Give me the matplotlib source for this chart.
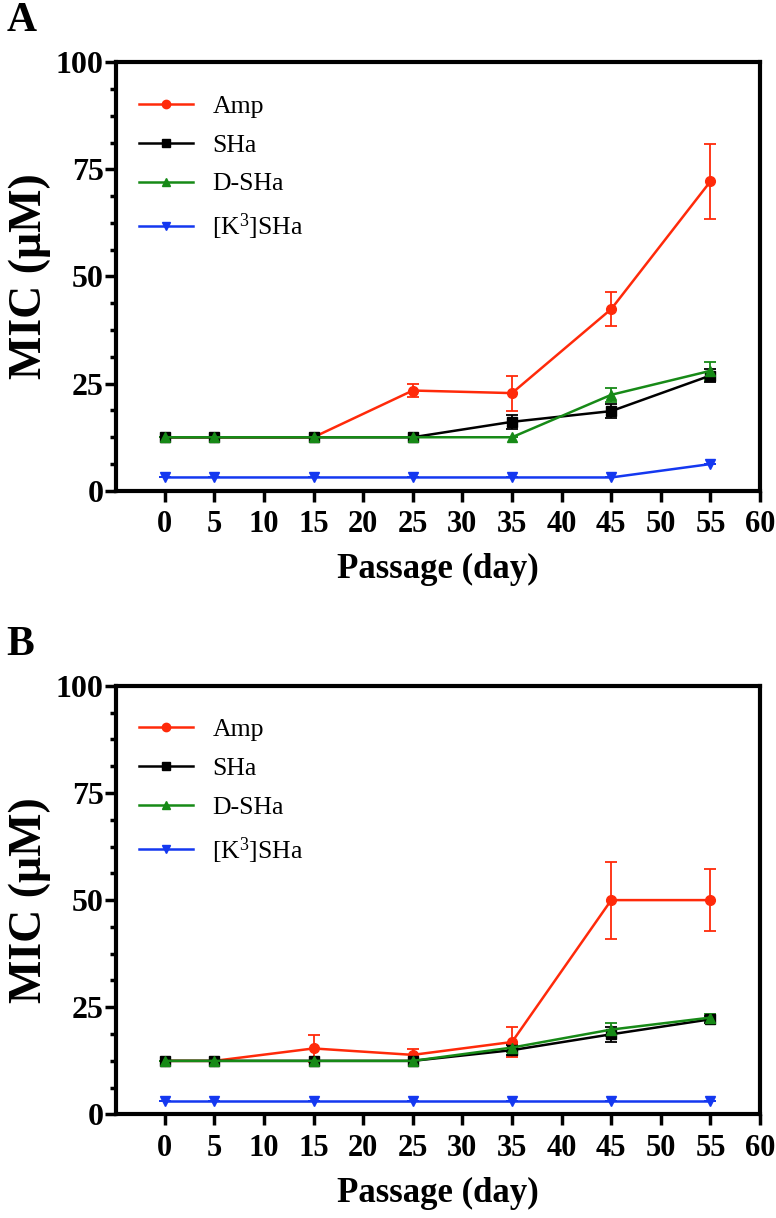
import matplotlib
matplotlib.use('Agg')
import matplotlib.pyplot as plt
from matplotlib.lines import Line2D
from matplotlib.ticker import MultipleLocator

plt.rcParams['font.family'] = ['Liberation Serif', 'DejaVu Serif']
plt.rcParams['mathtext.fontset'] = 'custom'
plt.rcParams['mathtext.rm'] = 'Liberation Serif'
plt.rcParams['mathtext.default'] = 'regular'

days = [0, 5, 15, 25, 35, 45, 55]
xticks = [0, 5, 10, 15, 20, 25, 30, 35, 40, 45, 50, 55, 60]

# panel A
amp_a = [12.5, 12.5, 12.5, 23.4, 22.8, 42.4, 72.2]
amp_a_err = [0, 0, 0, 1.6, 4.1, 3.9, 8.8]
sha_a = [12.5, 12.5, 12.5, 12.5, 16.1, 18.6, 26.9]
sha_a_err = [0, 0, 0, 0, 1.7, 1.7, 1.5]
dsha_a = [12.5, 12.5, 12.5, 12.5, 12.5, 22.4, 28.0]
dsha_a_err = [0, 0, 0, 0, 0, 1.6, 2.1]
k3_a = [3.125, 3.125, 3.125, 3.125, 3.125, 3.125, 6.25]
k3_a_err = [0, 0, 0, 0, 0, 0, 0]

# panel B
amp_b = [12.5, 12.5, 15.4, 13.9, 16.9, 50.0, 50.0]
amp_b_err = [0, 0, 3.2, 1.4, 3.4, 9.0, 7.2]
sha_b = [12.5, 12.5, 12.5, 12.5, 15.0, 18.7, 22.2]
sha_b_err = [0, 0, 0, 0, 1.2, 1.8, 0.8]
dsha_b = [12.5, 12.5, 12.5, 12.5, 15.6, 19.8, 22.6]
dsha_b_err = [0, 0, 0, 0, 1.0, 1.5, 0.8]
k3_b = [3.125, 3.125, 3.125, 3.125, 3.125, 3.125, 3.125]
k3_b_err = [0, 0, 0, 0, 0, 0, 0]

labels = ['Amp', 'SHa', 'D-SHa', '[K$^3$]SHa']
colors = ['#FF2A0A', '#000000', '#178A17', '#1438F0']
markers = ['o', 's', '^', 'v']


def draw_panel(ax, series):
    handles = []
    for (y, err), lab, col, m in zip(series, labels, colors, markers):
        ax.errorbar(days, y, yerr=err, color=col, marker=m, markersize=7,
                    linewidth=1.8, elinewidth=1.3, capsize=4.5, capthick=1.3)
        handles.append(Line2D([], [], color=col, marker=m, markersize=6,
                              linewidth=1.8, label=lab))
    ax.set_xlim(-4.9, 60)
    ax.set_ylim(0, 100)
    ax.set_xticks(xticks)
    ax.yaxis.set_major_locator(MultipleLocator(25))
    ax.yaxis.set_minor_locator(MultipleLocator(6.25))
    for s in ax.spines.values():
        s.set_linewidth(3)
    ax.tick_params(which='major', length=8, width=2.5, labelsize=23, pad=1)
    ax.tick_params(which='minor', length=4.5, width=2.5)
    ax.tick_params(axis='x', labelsize=22, pad=6)
    for t in ax.get_xticklabels() + ax.get_yticklabels():
        t.set_fontweight('bold')
    ax.set_xlabel('Passage (day)', fontsize=25, fontweight='bold', labelpad=10)
    ax.set_ylabel('MIC (μM)', fontsize=33, fontweight='bold', labelpad=3)
    ax.legend(handles=handles, loc='upper left', bbox_to_anchor=(0.0, 0.978),
              frameon=False, fontsize=18.5, handlelength=2.1,
              labelspacing=0.62, handletextpad=0.75)


fig = plt.figure(figsize=(7.76, 12.18), dpi=100)
ax1 = fig.add_axes([0.1495, 0.597, 0.830, 0.352])
ax2 = fig.add_axes([0.1495, 0.085, 0.830, 0.352])

draw_panel(ax1, [(amp_a, amp_a_err), (sha_a, sha_a_err), (dsha_a, dsha_a_err), (k3_a, k3_a_err)])
draw_panel(ax2, [(amp_b, amp_b_err), (sha_b, sha_b_err), (dsha_b, dsha_b_err), (k3_b, k3_b_err)])

fig.text(0.008, 0.998, 'A', fontsize=30, fontweight='bold', va='top', ha='left')
fig.text(0.008, 0.486, 'B', fontsize=30, fontweight='bold', va='top', ha='left')

fig.savefig('out.png', dpi=100)
